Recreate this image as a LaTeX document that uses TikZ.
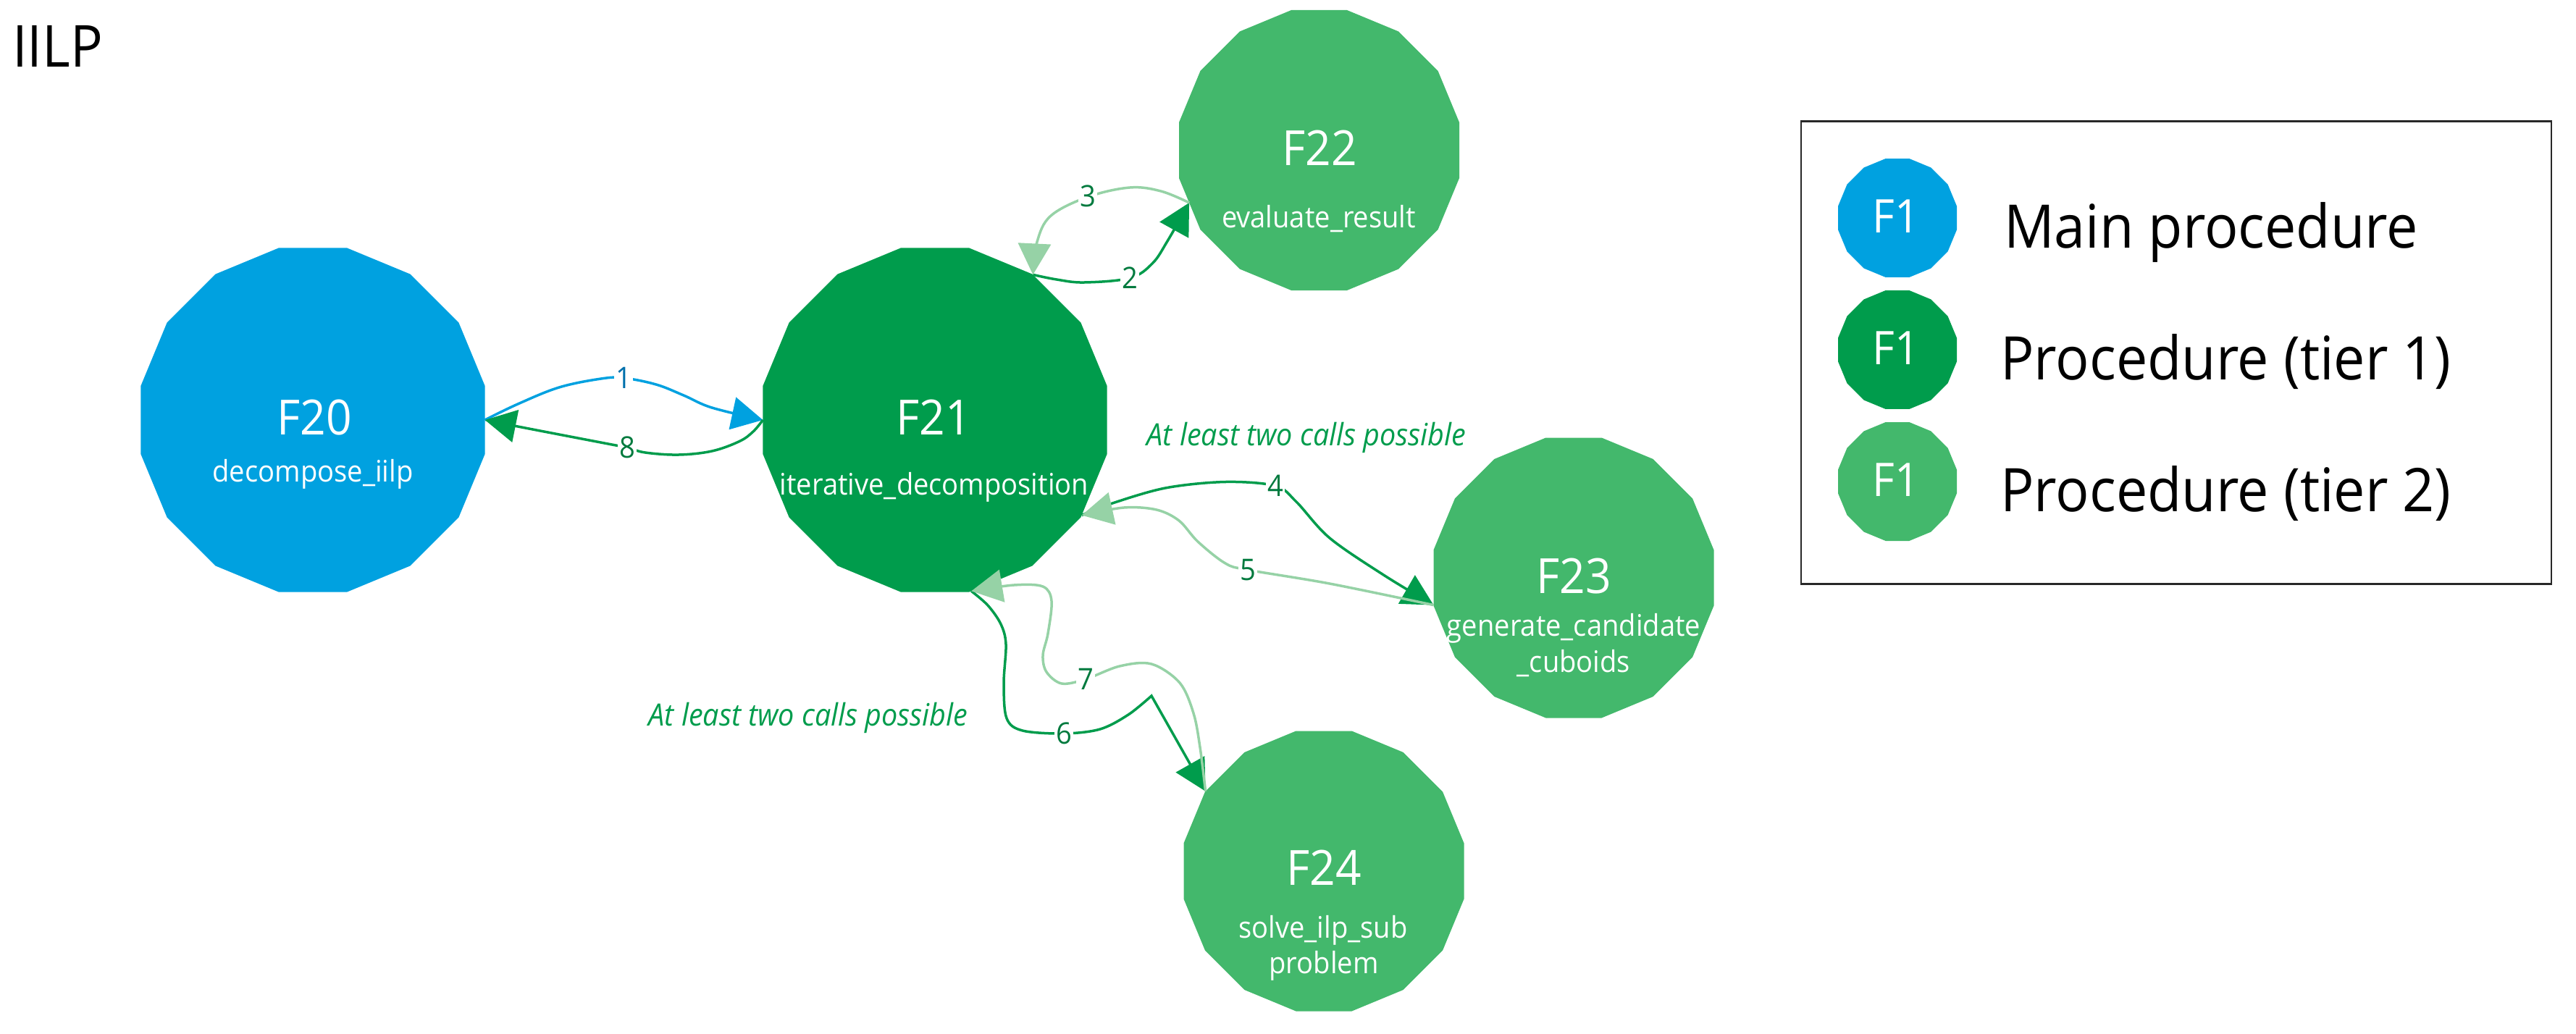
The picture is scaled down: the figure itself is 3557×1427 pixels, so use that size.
\documentclass[tikz,border=0pt]{standalone}
\usepackage{fontspec}
\setmainfont{Open Sans}[FakeStretch=0.93]
\usetikzlibrary{shapes.geometric,arrows.meta}
\definecolor{mainblue}{RGB}{0,161,224}
\definecolor{tierone}{RGB}{0,156,76}
\definecolor{tiertwo}{RGB}{67,184,108}
\definecolor{palegreen}{RGB}{150,210,166}
\definecolor{lblgreen}{RGB}{0,122,62}
\definecolor{lblblue}{RGB}{0,112,172}
\definecolor{boxgray}{RGB}{40,40,40}
\begin{document}
\begin{tikzpicture}[x=1pt,y=-1pt,
  polyshape/.style={regular polygon, regular polygon sides=16, inner sep=0pt, outer sep=0pt, draw=none},
  nodebig/.style={polyshape, minimum size=484.4pt},
  nodesmall/.style={polyshape, minimum size=394.6pt},
  nodeleg/.style={polyshape, minimum size=167.2pt},
  nodetitle/.style={anchor=base, text=white, inner sep=0pt, font=\fontsize{67}{70}\selectfont},
  nodesub/.style={anchor=base, text=white, inner sep=0pt, font=\fontsize{41}{45}\selectfont},
  legf/.style={anchor=base, text=white, inner sep=0pt, font=\fontsize{64}{66}\selectfont},
  connline/.style={line width=3.5pt},
  arrowhd/.style={-{Triangle[length=43pt,width=45pt]}},
  edgelbl/.style={fill=white, inner sep=2.5pt, font=\fontsize{41}{43}\selectfont, text=lblgreen},
  notetext/.style={anchor=base, text=tierone, inner sep=0pt, font=\fontsize{42.5}{46}\selectfont\itshape},
  legendtext/.style={anchor=base west, inner sep=0pt, font=\fontsize{83}{90}\selectfont},
]
\useasboundingbox (0,0) rectangle (3557,1427);

% title
\node[anchor=base west, inner sep=0pt, font=\fontsize{80}{88}\selectfont] (ttl) at (17,92) {IILP};

% procedure nodes
\node[nodebig, fill=mainblue] (F20) at (432,580) {};
\node[nodebig, fill=tierone] (F21) at (1291,580) {};
\node[nodesmall, fill=tiertwo] (F22) at (1821.5,207.5) {};
\node[nodesmall, fill=tiertwo] (F23) at (2173,798) {};
\node[nodesmall, fill=tiertwo] (F24) at (1828,1203) {};

\node[nodetitle] (t20) at (434,600) {F20};
\node[nodesub] (s20) at (432,665) {decompose\_iilp};
\node[nodetitle] (t21) at (1289,600) {F21};
\node[nodesub] (s21) at (1290,683) {iterative\_decomposition};
\node[nodetitle] (t22) at (1822,228.5) {F22};
\node[nodesub] (s22) at (1821,314) {evaluate\_result};
\node[nodetitle] (t23) at (2173,819) {F23};
\node[nodesub] (s23a) at (2173,878) {generate\_candidate};
\node[nodesub] (s23b) at (2173,928.6) {\_cuboids};
\node[nodetitle] (t24) at (1828,1222) {F24};
\node[nodesub] (s24a) at (1827,1295) {solve\_ilp\_sub};
\node[nodesub] (s24b) at (1828,1344) {problem};

% notes
\node[notetext] (n1) at (1804,615) {At least two calls possible};
\node[notetext] (n2) at (1116,1002.6) {At least two calls possible};

% connectors
\draw[connline, mainblue, arrowhd] plot[smooth, tension=0.6] coordinates {(F20.east) (715,558) (772,535) (830,523) (861,522) (906,531) (944,546) (983,563) (F21.west)};
\draw[connline, tierone, arrowhd] plot[smooth, tension=0.6] coordinates {(F21.west) (1040,596) (1021,609.5) (983,623) (937,628) (891,625) (866,618) (845,614) (772,600) (715,589) (F20.east)};
\draw[connline, tierone, arrowhd] plot[smooth, tension=0.6] coordinates {(F21.56.25) (1459,386) (1497,390) (1560,384) (1591,364) (1612,333) (F22.202)};
\draw[connline, palegreen, arrowhd] plot[smooth, tension=0.6] coordinates {(F22.202) (1603,264) (1560,259) (1502,272) (1451,298) (1432,334) (F21.56.25)};
\draw[connline, tierone, arrowhd] plot[smooth, tension=0.55] coordinates {(F21.-33.75) (1533,696) (1609,674) (1692,665.5) (1761,671) (1790,693) (1836,743) (1912,795) (F23.191.25)};
\draw[connline, palegreen, arrowhd] plot[smooth, tension=0.55] coordinates {(F23.191.25) (1836,806) (1723,787) (1692,778) (1654,748) (1628,719) (1597,704) (1552,701) (F21.-33.75)};
\draw[connline, tierone, arrowhd] plot[smooth, tension=0.55] coordinates {(F21.-78.75) (1364,836) (1382,862) (1389,890) (1386,944) (1390,992) (1412,1009) (1469,1013) (1519,1007) (1558,987) (1590,961)} -- (F24.146.25);
\draw[connline, palegreen, arrowhd] plot[smooth, tension=0.55] coordinates {(F24.146.25) (1657,1032) (1648,985) (1629,943) (1590,917) (1546,920) (1499,938) (1466,944) (1445,928) (1440,905) (1447,875) (1452,830) (1440,810) (1400,808) (F21.-78.75)};

% connector labels
\node[edgelbl, text=lblblue] (e1) at (861,522) {1};
\node[edgelbl] (e2) at (1560,384) {2};
\node[edgelbl] (e3) at (1502,271) {3};
\node[edgelbl] (e4) at (1761,671) {4};
\node[edgelbl] (e5) at (1723,787) {5};
\node[edgelbl] (e6) at (1469,1013) {6};
\node[edgelbl] (e7) at (1499,938) {7};
\node[edgelbl] (e8) at (866,618) {8};

% legend
\draw[boxgray, line width=2.5pt] (2487,167.6) rectangle (3523,806.5);
\node[nodeleg, fill=mainblue] (L1) at (2620,301) {};
\node[nodeleg, fill=tierone] (L2) at (2620,483) {};
\node[nodeleg, fill=tiertwo] (L3) at (2620,665) {};
\node[legf] (l1f) at (2618,321.5) {F1};
\node[legf] (l2f) at (2618,503.5) {F1};
\node[legf] (l3f) at (2618,685.5) {F1};
\node[legendtext] (l1t) at (2767,342) {Main procedure};
\node[legendtext] (l2t) at (2762,524) {Procedure (tier 1)};
\node[legendtext] (l3t) at (2762,706) {Procedure (tier 2)};
\end{tikzpicture}
\end{document}
